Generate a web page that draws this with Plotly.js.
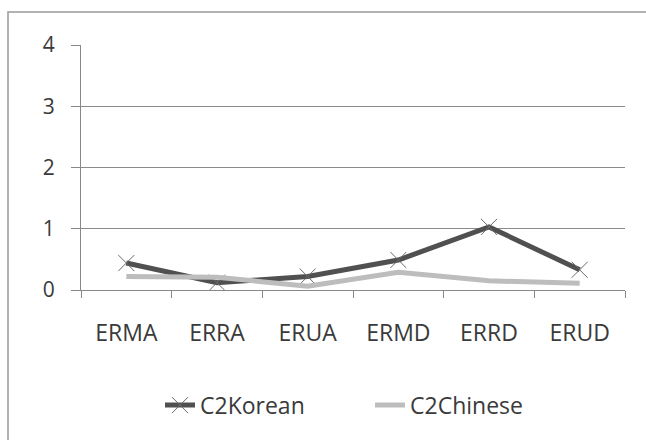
<!DOCTYPE html>
<html><head><meta charset="utf-8">
<script src="https://cdn.plot.ly/plotly-3.0.1.min.js"></script>
<style>html,body{margin:0;padding:0;background:#fff}#chart{width:646px;height:440px}</style>
</head><body><div id="chart"></div>
<script>
var categories = ["ERMA", "ERRA", "ERUA", "ERMD", "ERRD", "ERUD"];
var koreanValues = [0.44, 0.12, 0.22, 0.49, 1.03, 0.33];
var chineseValues = [0.22, 0.21, 0.06, 0.29, 0.15, 0.11];
var yTicks = [0, 1, 2, 3, 4];

var fontFam = "Open Sans, Noto Sans, sans-serif";
var traces = [
  {x: categories, y: koreanValues, name: "C2Korean", type: "scatter", mode: "lines+markers",
   line: {color: "#505050", width: 5},
   marker: {symbol: "x-thin", size: 16, line: {color: "#6a6a6a", width: 1}, color: "#6a6a6a"}},
  {x: categories, y: chineseValues, name: "C2Chinese", type: "scatter", mode: "lines",
   line: {color: "#bdbdbd", width: 5}}
];
var layout = {
  width: 646, height: 440,
  margin: {l: 81, r: 21, t: 45, b: 150},
  paper_bgcolor: "#fff", plot_bgcolor: "#fff",
  font: {family: fontFam, color: "#3a3a3a", size: 20},
  showlegend: true,
  legend: {orientation: "h", x: (160 - 81) / 544, xanchor: "left", y: -0.47, yanchor: "middle",
           font: {size: 23, color: "#3a3a3a", family: fontFam}, entrywidth: 165, entrywidthmode: "pixels"},
  xaxis: {type: "category", range: [-0.5, 5.5], tickson: "boundaries", ticks: "outside", ticklen: 7,
          tickcolor: "#888", showline: true, linecolor: "#888", linewidth: 1, showgrid: false,
          ticklabelstandoff: 22, tickfont: {size: 23, color: "#3a3a3a"}, zeroline: false, fixedrange: true},
  yaxis: {range: [0, 4], tickvals: yTicks, ticktext: yTicks.map(String), ticks: "outside", ticklen: 9,
          tickcolor: "#888", showline: true, linecolor: "#888", showgrid: true, gridcolor: "#8a8a8a",
          gridwidth: 1, zeroline: false, ticklabelstandoff: 12, tickfont: {size: 21, color: "#3a3a3a"}, fixedrange: true},
  shapes: [{type: "rect", xref: "paper", yref: "paper", x0: (8 - 81) / 544, x1: 1.2, y0: -0.7, y1: (290 - 12) / 245,
            line: {color: "#999", width: 1.5}, fillcolor: "rgba(0,0,0,0)", layer: "below"}]
};
Plotly.newPlot("chart", traces, layout, {displayModeBar: false, staticPlot: true});
</script></body></html>
